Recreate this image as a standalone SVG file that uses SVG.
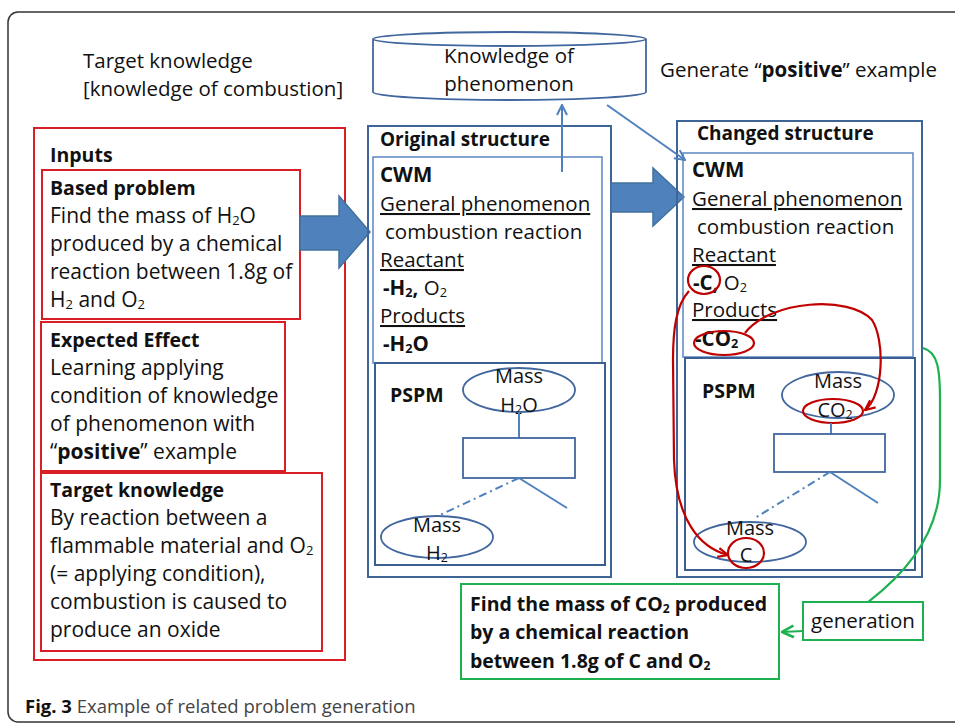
<svg xmlns="http://www.w3.org/2000/svg" width="955" height="724" viewBox="0 0 955 724">
<style>
text{font-family:"Open Sans","Liberation Sans",sans-serif;font-size:20.5px;fill:#111}
.b{font-weight:bold}
.l{font-size:21px}
.hb{font-size:19.5px;font-weight:bold}
.u{text-decoration:underline}
.sub{font-size:0.62em;baseline-shift:-2px}
.m{font-size:20px;text-anchor:middle}
.red{fill:none;stroke:#D91E25;stroke-width:2}
.outer{fill:none;stroke:#3F6597;stroke-width:2}
.inner{fill:none;stroke:#5B87C2;stroke-width:1.5}
.ps{fill:none;stroke:#3C5F92;stroke-width:2}
.ell{fill:none;stroke:#41679E;stroke-width:1.8}
.thin{fill:none;stroke:#4F81BD;stroke-width:2}
.rc{fill:none;stroke:#C00000;stroke-width:2.2}
.gr{fill:none;stroke:#1DB150;stroke-width:2.2}
.blk{fill:#4F81BD;stroke:#41719C;stroke-width:1.5}
.g{font-size:19.5px;font-weight:bold}
</style>
<defs>
<marker id="ab" viewBox="0 0 12 12" refX="11" refY="6" markerWidth="12" markerHeight="12" markerUnits="userSpaceOnUse" orient="auto"><path d="M1,1 L11,6 L1,11" fill="none" stroke="#4F81BD" stroke-width="2"/></marker>
<marker id="ar" viewBox="0 0 12 12" refX="11" refY="6" markerWidth="12" markerHeight="12" markerUnits="userSpaceOnUse" orient="auto"><path d="M1,1.5 L11,6 L1,10.5" fill="none" stroke="#C00000" stroke-width="2.2"/></marker>
<marker id="ag" viewBox="0 0 12 12" refX="11" refY="6" markerWidth="14" markerHeight="14" markerUnits="userSpaceOnUse" orient="auto"><path d="M1,1 L11,6 L1,11" fill="none" stroke="#1DB150" stroke-width="2.2"/></marker>
</defs>

<rect x="8" y="12" width="990" height="710" rx="10" fill="none" stroke="#333" stroke-width="1.5"/>

<g id="title-target">
<text x="83" y="68">Target knowledge</text>
<text x="83" y="96">[knowledge of combustion]</text>
</g>

<g id="knowledge-db">
<path d="M373,39 V92 A136.5,8 0 0 0 646,92 V39" fill="#fff" stroke="#41679E" stroke-width="1.8"/>
<ellipse cx="509.5" cy="39" rx="136.5" ry="7" fill="#fff" stroke="#41679E" stroke-width="1.8"/>
<text x="509" y="63" text-anchor="middle">Knowledge of</text>
<text x="509" y="91" text-anchor="middle">phenomenon</text>
</g>

<g id="generate-label">
<text x="660" y="77">Generate “<tspan class="b">positive</tspan>” example</text>
</g>

<g id="inputs">
<rect x="34" y="128" width="311" height="532" class="red"/>
<text x="50" y="162" class="hb">Inputs</text>
</g>

<g id="based-problem">
<rect x="42" y="170" width="258" height="149" class="red"/>
<text x="50" y="195" class="hb">Based problem</text>
<text x="50" y="223" class="l">Find the mass of H<tspan class="sub">2</tspan>O</text>
<text x="50" y="251" class="l">produced by a chemical</text>
<text x="50" y="279" class="l">reaction between 1.8g of</text>
<text x="50" y="307" class="l">H<tspan class="sub">2</tspan> and O<tspan class="sub">2</tspan></text>
</g>

<g id="expected-effect">
<rect x="41" y="322" width="244" height="149" class="red"/>
<text x="50" y="347" class="hb">Expected Effect</text>
<text x="50" y="375" class="l">Learning applying</text>
<text x="50" y="403" class="l">condition of knowledge</text>
<text x="50" y="431" class="l">of phenomenon with</text>
<text x="50" y="459" class="l">“<tspan class="b">positive</tspan>” example</text>
</g>

<g id="target-knowledge">
<rect x="41" y="473" width="281" height="178" class="red"/>
<text x="50" y="497" class="hb">Target knowledge</text>
<text x="50" y="525" class="l">By reaction between a</text>
<text x="50" y="553" class="l">flammable material and O<tspan class="sub">2</tspan></text>
<text x="50" y="581" class="l">(= applying condition),</text>
<text x="50" y="609" class="l">combustion is caused to</text>
<text x="50" y="637" class="l">produce an oxide</text>
</g>

<g id="arrow-left">
<path d="M300,216 H339 V196 L370,232 L339,268 V250 H300 Z" class="blk"/>
</g>

<g id="original-structure">
<rect x="368" y="126" width="243" height="451" class="outer"/>
<text x="380" y="146" class="b" style="font-size:19px">Original structure</text>
</g>

<g id="original-cwm">
<rect x="373" y="157" width="229" height="206" class="inner"/>
<text x="380" y="182" class="b">CWM</text>
<text x="380" y="211" class="u">General phenomenon</text>
<text x="385" y="239">combustion reaction</text>
<text x="380" y="267" class="u">Reactant</text>
<text x="383" y="295"><tspan class="b">-H<tspan class="sub">2</tspan>,</tspan> O<tspan class="sub">2</tspan></text>
<text x="380" y="323" class="u">Products</text>
<text x="383" y="351" class="b">-H<tspan class="sub">2</tspan>O</text>
</g>

<g id="original-pspm">
<rect x="375" y="363" width="230" height="202" class="ps"/>
<text x="390" y="402" class="b" style="font-size:19.5px">PSPM</text>
<ellipse cx="519" cy="390" rx="56" ry="22" class="ell"/>
<text x="519" y="383" class="m">Mass</text>
<text x="519" y="412" class="m">H<tspan class="sub">2</tspan>O</text>
<line x1="519" y1="412" x2="519" y2="438" class="thin"/>
<rect x="463" y="438" width="112" height="40" fill="none" stroke="#41679E" stroke-width="1.8"/>
<line x1="519" y1="478" x2="567" y2="508" class="thin"/>
<line x1="519" y1="478" x2="440" y2="515" class="thin" stroke-dasharray="8,4,2,4"/>
<ellipse cx="437" cy="537" rx="56" ry="21" class="ell"/>
<text x="437" y="532" class="m">Mass</text>
<text x="437" y="560" class="m">H<tspan class="sub">2</tspan></text>
</g>

<g id="arrow-mid">
<path d="M611,183 H653 V168 L684,197 L653,226 V212 H611 Z" class="blk"/>
</g>

<g id="changed-structure">
<rect x="677" y="121" width="245" height="456" class="outer"/>
<text x="697" y="140" class="b" style="font-size:19px">Changed structure</text>
</g>

<g id="changed-cwm">
<rect x="683" y="153" width="230" height="204" class="inner"/>
<text x="692" y="177" class="b">CWM</text>
<text x="692" y="206" class="u">General phenomenon</text>
<text x="697" y="234">combustion reaction</text>
<text x="692" y="262" class="u">Reactant</text>
<text x="693" y="290"><tspan class="b">-C,</tspan> O<tspan class="sub">2</tspan></text>
<text x="692" y="317" class="u">Products</text>
<text x="695" y="346" class="b">-CO<tspan class="sub">2</tspan></text>
<ellipse cx="704" cy="280" rx="16" ry="14" class="rc"/>
<ellipse cx="724" cy="343" rx="30" ry="12" class="rc"/>
</g>

<g id="changed-pspm">
<rect x="685" y="358" width="230" height="212" class="ps"/>
<text x="702" y="398" class="b" style="font-size:19.5px">PSPM</text>
<ellipse cx="838" cy="395" rx="56" ry="23" class="ell"/>
<text x="838" y="388" class="m">Mass</text>
<text x="835" y="417" class="m">CO<tspan class="sub">2</tspan></text>
<ellipse cx="833" cy="411" rx="30" ry="12" class="rc"/>
<line x1="831" y1="423" x2="831" y2="434" class="thin"/>
<rect x="774" y="434" width="111" height="38" fill="none" stroke="#41679E" stroke-width="1.8"/>
<line x1="830" y1="472" x2="878" y2="503" class="thin"/>
<line x1="830" y1="472" x2="755" y2="518" class="thin" stroke-dasharray="8,4,2,4"/>
<ellipse cx="750" cy="542" rx="56" ry="20" class="ell"/>
<text x="750" y="535" class="m">Mass</text>
<text x="746" y="562" class="m">C</text>
<ellipse cx="746" cy="553" rx="18" ry="15" class="rc"/>
</g>

<g id="generated-problem">
<rect x="461" y="584" width="318" height="95" fill="none" stroke="#1DB150" stroke-width="2"/>
<text x="470" y="611" class="g">Find the mass of CO<tspan class="sub">2</tspan> produced</text>
<text x="470" y="639" class="g">by a chemical reaction</text>
<text x="470" y="668" class="g">between 1.8g of C and O<tspan class="sub">2</tspan></text>
</g>

<g id="generation">
<rect x="803" y="602" width="120" height="38" fill="none" stroke="#1DB150" stroke-width="2"/>
<text x="863" y="628" text-anchor="middle">generation</text>
</g>

<g id="connectors">
<line x1="562" y1="172" x2="562" y2="105" class="thin" stroke-width="1.8" marker-end="url(#ab)"/>
<line x1="607" y1="105" x2="685" y2="160" class="thin" stroke-width="1.8" marker-end="url(#ab)"/>
<path d="M689,291 C676,305 673,330 673,360 L674,460 C676,520 700,548 728,555" class="rc" marker-end="url(#ar)"/>
<path d="M745,333 C770,300 850,295 872,320 C885,340 884,395 865,410" class="rc" marker-end="url(#ar)"/>
<path d="M923,348 C938,352 940,370 940,400 L940,480 C940,530 910,570 868,602" class="gr"/>
<line x1="803" y1="631" x2="782" y2="632" class="gr" marker-end="url(#ag)"/>
</g>

<g id="caption">
<text x="25" y="713" style="font-size:18.5px;fill:#444"><tspan class="b" style="fill:#111">Fig. 3</tspan> Example of related problem generation</text>
</g>
</svg>
